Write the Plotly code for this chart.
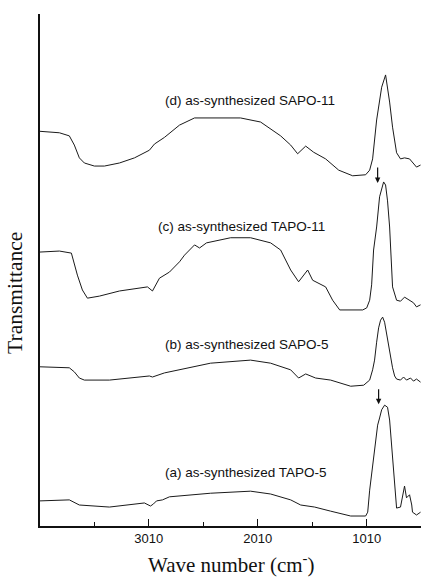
import plotly.graph_objects as go

# ---- data (wavenumber cm^-1, transmittance in arbitrary stacked units) ----
d_wn = [4014, 3830, 3739, 3693, 3647, 3601, 3509, 3417, 3279, 3141, 3004, 2958, 2866, 2728, 2590, 2443,
        2168, 1984, 1800, 1708, 1644, 1570, 1497, 1387, 1267, 1139, 1020, 983, 956, 919, 873, 837, 800,
        773, 736, 700, 663, 617, 590, 553, 516]
d_t = [77.1, 76.8, 76.2, 74.4, 71.9, 70.9, 70.3, 70.3, 70.9, 71.9, 73.4, 74.6, 75.9, 78.3, 79.7, 79.7,
       79.7, 78.9, 76.2, 74.4, 72.7, 74.2, 73.0, 71.7, 69.5, 68.4, 68.6, 69.5, 71.7, 79.3, 85.7, 88.1, 82.8,
       77.9, 72.9, 71.7, 71.9, 71.7, 71.1, 70.1, 70.5]

c_wn = [4014, 3830, 3720, 3665, 3619, 3573, 3463, 3279, 3022, 2976, 2912, 2820, 2728, 2682, 2590, 2544,
        2480, 2351, 2259, 2076, 1892, 1800, 1708, 1635, 1552, 1506, 1460, 1387, 1323, 1258, 1047, 1010,
        983, 965, 947, 919, 892, 873, 855, 837, 819, 800, 782, 773, 736, 700, 663, 636, 617, 581, 553, 516]
c_t = [53.5, 53.7, 53.3, 49.0, 46.1, 44.5, 44.9, 45.9, 46.7, 45.9, 48.4, 49.6, 51.6, 52.9, 54.9, 54.3,
       55.3, 55.9, 56.3, 56.3, 55.3, 53.9, 50.0, 47.7, 50.0, 48.0, 47.5, 46.7, 44.1, 42.2, 42.2, 42.6,
       44.1, 47.1, 53.9, 58.4, 64.3, 65.6, 67.2, 66.6, 63.5, 58.4, 51.0, 46.7, 44.1, 43.9, 44.7, 44.3,
       44.1, 43.6, 42.8, 43.2]

b_wn = [4014, 3739, 3693, 3647, 3601, 3371, 3004, 2976, 2866, 2636, 2443, 2076, 1892, 1708, 1635, 1570,
        1479, 1341, 1157, 1038, 1001, 983, 956, 938, 919, 901, 883, 864, 846, 828, 808, 791, 773, 754,
        736, 700, 672, 645, 608, 581, 553, 516]
b_t = [31.1, 30.9, 30.1, 28.9, 28.5, 28.5, 29.3, 29.1, 29.9, 30.9, 31.8, 32.4, 31.8, 30.5, 28.9, 29.7,
       28.9, 28.5, 27.3, 27.5, 28.1, 28.5, 30.5, 32.4, 35.9, 38.7, 40.2, 40.8, 39.8, 37.7, 35.2, 32.8, 30.9,
       29.3, 28.7, 28.5, 29.1, 28.5, 28.9, 28.3, 28.7, 28.1]

a_wn = [4014, 3739, 3647, 3371, 3050, 2994, 2967, 2939, 2884, 2820, 2443, 2076, 1892, 1708, 1616, 1488,
        1341, 1157, 1020, 1001, 983, 956, 938, 910, 892, 873, 846, 819, 800, 782, 764, 754, 736, 700,
        681, 663, 645, 636, 617, 597, 590, 553, 516]
a_t = [4.9, 5.1, 4.1, 3.7, 4.5, 3.9, 4.3, 4.9, 5.1, 5.7, 6.4, 6.8, 6.25, 5.1, 4.1, 3.7,
       2.9, 1.95, 1.95, 2.7, 7.0, 11.9, 15.4, 19.7, 21.1, 22.7, 23.6, 23.2, 20.7, 15.4, 10.0, 7.0, 3.5, 3.7,
       6.1, 7.8, 5.5, 5.7, 6.1, 4.1, 2.7, 2.15, 2.7]

labels = ["(d) as-synthesized SAPO-11", "(c) as-synthesized TAPO-11",
          "(b) as-synthesized SAPO-5", "(a) as-synthesized TAPO-5"]
label_x = [2884, 2940, 2884, 2884]
label_y = [83.2, 58.4, 35.5, 10.4]

arrow_x = [910, 901]
arrow_tip = [67.0, 23.8]
arrow_tail = [70.3, 27.0]

x_range = [4008, 512]

fig = go.Figure()
for wn, t in [(d_wn, d_t), (c_wn, c_t), (b_wn, b_t), (a_wn, a_t)]:
    fig.add_trace(go.Scatter(x=wn, y=t, mode="lines",
                             line=dict(color="#1a1a1a", width=1), showlegend=False,
                             hoverinfo="skip"))

for txt, lx, ly in zip(labels, label_x, label_y):
    fig.add_annotation(x=lx, y=ly, xref="x", yref="y", text=txt, showarrow=False,
                       xanchor="left", yanchor="middle",
                       font=dict(family="Liberation Sans", size=13.5, color="#111"))

for axx, tip, tail in zip(arrow_x, arrow_tip, arrow_tail):
    fig.add_annotation(x=axx, y=tip, ax=axx, ay=tail, xref="x", yref="y",
                       axref="x", ayref="y", text="", showarrow=True,
                       arrowhead=2, arrowsize=0.9, arrowwidth=1.2, arrowcolor="#111")

fig.add_annotation(x=0.5, y=-0.1035, xref="paper", yref="paper",
                   text="Wave number (cm<sup>-</sup>)", showarrow=False,
                   xanchor="center", yanchor="bottom",
                   font=dict(family="Liberation Serif", size=21, color="#111"))
fig.add_annotation(x=-0.066, y=0.455, xref="paper", yref="paper",
                   text="Transmittance", showarrow=False, textangle=-90,
                   xanchor="center", yanchor="middle",
                   font=dict(family="Liberation Serif", size=21.5, color="#111"))

fig.update_layout(
    width=422, height=580,
    margin=dict(l=40, r=1, t=14, b=54),
    paper_bgcolor="white", plot_bgcolor="white",
    xaxis=dict(range=x_range, tickmode="linear", tick0=10, dtick=1000,
               ticks="inside", ticklen=7, tickwidth=1.3, tickcolor="#111",
               showline=True, linecolor="#111", linewidth=1.5, showgrid=False,
               zeroline=False, mirror=False,
               tickfont=dict(family="Liberation Sans", size=13, color="#111"),
               minor=dict(ticks="inside", ticklen=4, tickwidth=1.2, tickcolor="#111",
                          dtick=500, tick0=10, showgrid=False)),
    yaxis=dict(range=[0, 100], showticklabels=False, ticks="", showline=True,
               linecolor="#111", linewidth=1.5, showgrid=False, zeroline=False),
)

fig.write_html("out.html")
